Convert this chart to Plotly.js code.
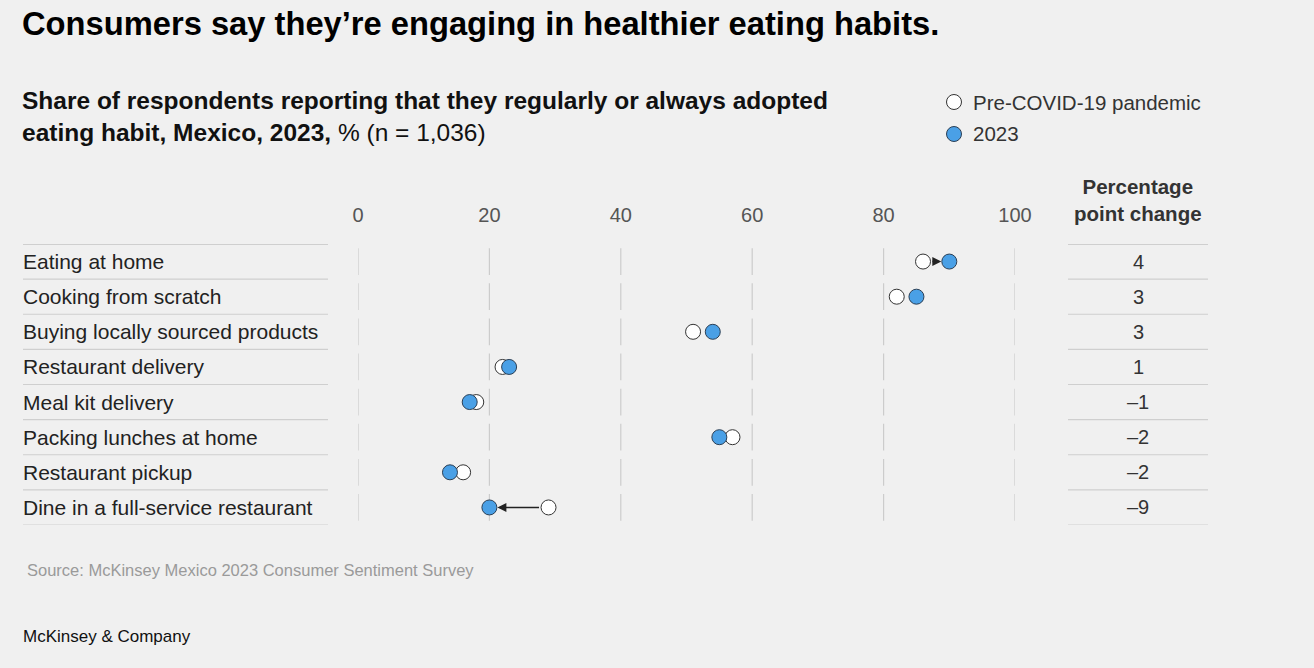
<!DOCTYPE html>
<html>
<head>
<meta charset="utf-8">
<script src="https://cdn.plot.ly/plotly-3.0.1.min.js"></script>
<style>
  html, body { margin: 0; padding: 0; background: #f0f0f0; }
  #chart { width: 1314px; height: 668px; }
</style>
</head>
<body>
<div id="chart"></div>
<script>
// ---- Data ----
const categories = [
  "Eating at home",
  "Cooking from scratch",
  "Buying locally sourced products",
  "Restaurant delivery",
  "Meal kit delivery",
  "Packing lunches at home",
  "Restaurant pickup",
  "Dine in a full-service restaurant"
];
const preCovid = [86, 82, 51, 22, 18, 57, 16, 29];
const year2023 = [90, 85, 54, 23, 17, 55, 14, 20];
const changeLabels = ["4", "3", "3", "1", "\u20131", "\u20132", "\u20132", "\u20139"];
const xTicks = [0, 20, 40, 60, 80, 100];

// ---- Layout helpers ----
const W = 1314, H = 668;
const px = v => v / W;
const py = v => 1 - v / H;
const FONT = "Liberation Sans, Arial, sans-serif";
const BLUE = "#4aa0e6";
const n = categories.length;

const traces = [
  {
    type: "scatter", mode: "markers", name: "Pre-COVID-19 pandemic",
    x: preCovid, y: categories,
    marker: { size: 15, color: "#ffffff", line: { color: "#333333", width: 1 } },
    showlegend: false, hoverinfo: "x+y"
  },
  {
    type: "scatter", mode: "markers", name: "2023",
    x: year2023, y: categories,
    marker: { size: 15, color: BLUE, line: { color: "#2b3f55", width: 1 } },
    showlegend: false, hoverinfo: "x+y"
  }
];

const shapes = [];
const annotations = [];

// vertical grid segments per row
categories.forEach((c, i) => {
  xTicks.forEach(t => {
    shapes.push({
      type: "line", xref: "x", yref: "y", x0: t, x1: t,
      y0: i - 0.5 + 0.12, y1: i + 0.5 - 0.12,
      line: { color: "#cccccc", width: 1.2 }, layer: "below"
    });
  });
});

// horizontal separators (left label column and right change column)
for (let i = 0; i <= n; i++) {
  const w = i === 0 ? 2 : 1.2;
  shapes.push({
    type: "line", xref: "paper", yref: "y", x0: px(23), x1: px(328),
    y0: i - 0.5, y1: i - 0.5, line: { color: "#cfcfcf", width: w }, layer: "below"
  });
  shapes.push({
    type: "line", xref: "paper", yref: "y", x0: px(1068), x1: px(1208),
    y0: i - 0.5, y1: i - 0.5, line: { color: "#cfcfcf", width: w }, layer: "below"
  });
}

// row labels & change values
categories.forEach((c, i) => {
  annotations.push({
    xref: "paper", yref: "y", x: px(21), y: c, text: c, showarrow: false,
    xanchor: "left", yanchor: "middle", font: { family: FONT, size: 21, color: "#222" }
  });
  annotations.push({
    xref: "paper", yref: "y", x: px(1138), y: c, text: changeLabels[i], showarrow: false,
    xanchor: "center", yanchor: "middle", font: { family: FONT, size: 20, color: "#333" }
  });
  // arrows (only where the two dots do not overlap)
  if (Math.abs(year2023[i] - preCovid[i]) >= 3) {
    annotations.push({
      xref: "x", yref: "y", x: year2023[i], y: c,
      axref: "x", ayref: "y", ax: preCovid[i], ay: c,
      text: "", showarrow: true, arrowhead: 2, arrowsize: 1.2, arrowwidth: 1.5,
      arrowcolor: "#222", standoff: 8, startstandoff: 8
    });
  }
});

// titles
annotations.push({
  xref: "paper", yref: "paper", x: px(20), y: py(24), xanchor: "left", yanchor: "middle",
  showarrow: false, text: "<b>Consumers say they\u2019re engaging in healthier eating habits.</b>",
  font: { family: FONT, size: 32.7, color: "#000" }
});
annotations.push({
  xref: "paper", yref: "paper", x: px(20), y: py(116), xanchor: "left", yanchor: "middle",
  align: "left", showarrow: false,
  text: "<b>Share of respondents reporting that they regularly or always adopted</b><br><b>eating habit, Mexico, 2023,</b> % (n = 1,036)",
  font: { family: FONT, size: 24.5, color: "#111" }
});
// column header
annotations.push({
  xref: "paper", yref: "paper", x: px(1138), y: py(200), xanchor: "center", yanchor: "middle",
  align: "center", showarrow: false,
  text: "<b>Percentage</b><br><b>point change</b>",
  font: { family: FONT, size: 20.5, color: "#333" }
});
// legend
shapes.push({
  type: "circle", xref: "paper", yref: "paper", xsizemode: "pixel", ysizemode: "pixel",
  xanchor: px(954), yanchor: py(102), x0: -7.5, x1: 7.5, y0: -7.5, y1: 7.5,
  fillcolor: "#ffffff", line: { color: "#333", width: 1 }
});
shapes.push({
  type: "circle", xref: "paper", yref: "paper", xsizemode: "pixel", ysizemode: "pixel",
  xanchor: px(954), yanchor: py(134), x0: -7.5, x1: 7.5, y0: -7.5, y1: 7.5,
  fillcolor: BLUE, line: { color: "#2b3f55", width: 1 }
});
annotations.push({
  xref: "paper", yref: "paper", x: px(971), y: py(102), xanchor: "left", yanchor: "middle",
  showarrow: false, text: traces[0].name, font: { family: FONT, size: 20.5, color: "#333" }
});
annotations.push({
  xref: "paper", yref: "paper", x: px(971), y: py(134), xanchor: "left", yanchor: "middle",
  showarrow: false, text: traces[1].name, font: { family: FONT, size: 20.5, color: "#333" }
});
// source & footer
annotations.push({
  xref: "paper", yref: "paper", x: px(25), y: py(570), xanchor: "left", yanchor: "middle",
  showarrow: false, text: "Source: McKinsey Mexico 2023 Consumer Sentiment Survey",
  font: { family: FONT, size: 16.5, color: "#9a9a9a" }
});
annotations.push({
  xref: "paper", yref: "paper", x: px(21), y: py(636), xanchor: "left", yanchor: "middle",
  showarrow: false, text: "McKinsey & Company",
  font: { family: FONT, size: 17, color: "#111" }
});

const layout = {
  width: W, height: H,
  margin: { l: 0, r: 0, t: 0, b: 0 },
  paper_bgcolor: "#f0f0f0", plot_bgcolor: "rgba(0,0,0,0)",
  showlegend: false,
  xaxis: {
    domain: [px(358), px(1015)], range: [0, 100], side: "top",
    tickvals: xTicks, ticktext: xTicks.map(String),
    showgrid: false, zeroline: false, showline: false, ticks: "",
    ticklabelstandoff: 17,
    tickfont: { family: FONT, size: 20, color: "#555" }, fixedrange: true
  },
  yaxis: {
    domain: [py(525), py(244)], type: "category",
    categoryorder: "array", categoryarray: categories,
    range: [n - 0.5, -0.5],
    showgrid: false, zeroline: false, showline: false, showticklabels: false, ticks: "",
    fixedrange: true
  },
  shapes: shapes,
  annotations: annotations
};

Plotly.newPlot("chart", traces, layout, { displayModeBar: false, staticPlot: true });
</script>
</body>
</html>
